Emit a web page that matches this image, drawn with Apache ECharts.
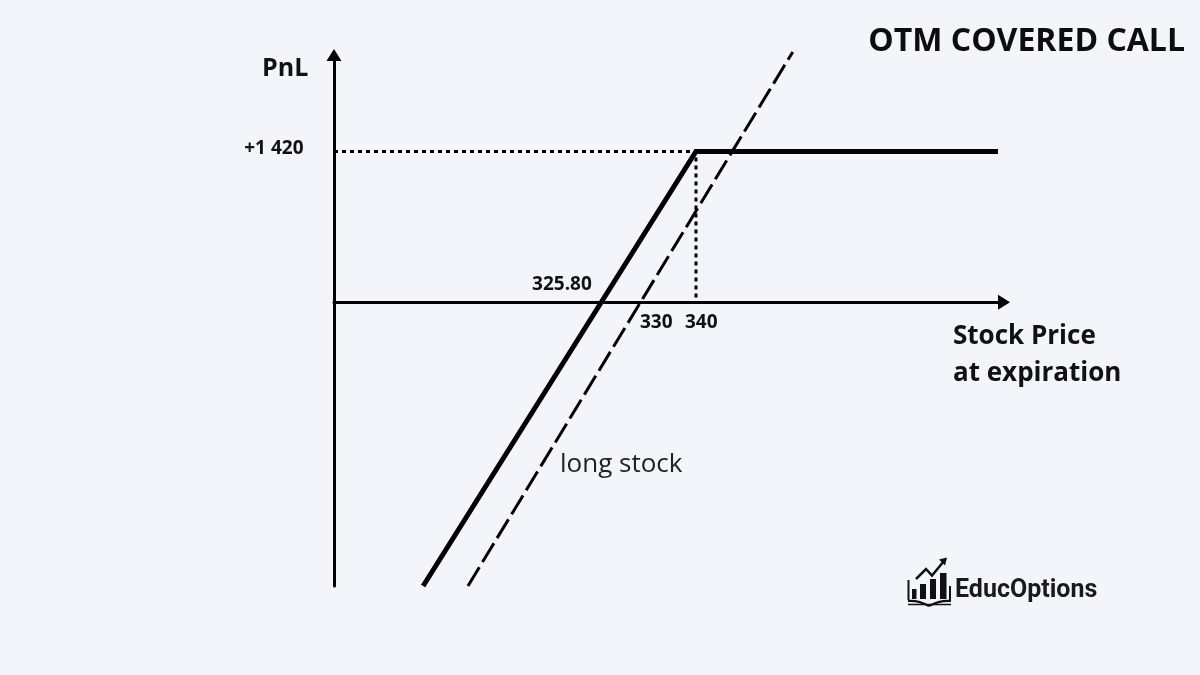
<!DOCTYPE html>
<html>
<head>
<meta charset="utf-8">
<script src="https://cdn.jsdelivr.net/npm/echarts@6/dist/echarts.min.js"></script>
<style>
  html, body { margin: 0; padding: 0; background: #f4f5fa; }
  #chart { width: 1200px; height: 675px; }
</style>
</head>
<body>
<div id="chart"></div>
<script>
// ---- data (schematic payoff diagram) ----
const coveredCall = [[290.4, -2670], [340, 1420], [394.9, 1420]];
const longStock = [[298.55, -2670], [357.6, 2356]];
const maxProfitGuide = [[274.2, 1420], [340, 1420], [340, 0]];
const tickPoints = [[274.2, 1420], [322.8, 0], [330, 0], [340, 0]];
const tickLabels = ['+1 420', '325.80', '330', '340'];
const titleText = 'OTM COVERED CALL';
const yAxisName = 'PnL';
const xAxisName = ['Stock Price', 'at expiration'];
const seriesNote = 'long stock';
const brandName = 'EducOptions';

const labelStyles = [
  { align: 'right', offset: [-30.5, -3] },
  { align: 'right', offset: [-9.5, -18] },
  { align: 'left', offset: [-1, 20] },
  { align: 'left', offset: [-11, 20] }
];

const chart = echarts.init(document.getElementById('chart'));
const ink = '#000000';
const font = '"Open Sans", sans-serif';

chart.setOption({
  backgroundColor: '#f4f5fa',
  animation: false,
  grid: { left: 334, right: 196, top: 55, bottom: 89 },
  xAxis: {
    type: 'value', min: 274.2, max: 396.0,
    axisLine: { show: true, onZero: true, symbol: ['none', 'triangle'], symbolSize: [15, 12],
      lineStyle: { color: ink, width: 3 } },
    axisTick: { show: false }, axisLabel: { show: false }, splitLine: { show: false }
  },
  yAxis: {
    type: 'value', min: -2670, max: 2327,
    axisLine: { show: true, onZero: false, symbol: ['none', 'triangle'], symbolSize: [15, 12],
      lineStyle: { color: ink, width: 3 } },
    axisTick: { show: false }, axisLabel: { show: false }, splitLine: { show: false }
  },
  series: [
    {
      name: 'guide', type: 'line', data: maxProfitGuide, symbol: 'none', silent: true,
      lineStyle: { color: ink, width: 3, type: [4, 4] }, z: 1
    },
    {
      name: 'long stock', type: 'line', data: longStock, symbol: 'none', clip: false,
      lineStyle: { color: ink, width: 3, type: [22, 6] }, z: 2
    },
    {
      name: 'covered call', type: 'line', data: coveredCall, symbol: 'none', clip: false,
      lineStyle: { color: ink, width: 5, join: 'miter' }, z: 3
    },
    {
      name: 'ticks', type: 'scatter', symbolSize: 1, itemStyle: { color: 'rgba(0,0,0,0)', opacity: 1 },
      data: tickPoints.map((p, i) => ({
        value: p,
        label: {
          show: true, position: 'inside', formatter: tickLabels[i],
          align: labelStyles[i].align, verticalAlign: 'middle', offset: labelStyles[i].offset,
          color: '#111', textBorderWidth: 0, textBorderColor: 'transparent', opacity: 1,
          fontFamily: font, fontWeight: 'bold', fontSize: 19
        }
      })), z: 4
    }
  ],
  graphic: [
    { type: 'text', style: { x: 1185, y: 41.5, text: titleText, textAlign: 'right', textVerticalAlign: 'middle',
      font: 'bold 32px "Open Sans", sans-serif', fill: '#0d0d0d' } },
    { type: 'text', style: { x: 262, y: 69, text: yAxisName, textAlign: 'left', textVerticalAlign: 'middle',
      font: 'bold 25px "Open Sans", sans-serif', fill: '#111' } },
    { type: 'text', style: { x: 953, y: 337, text: xAxisName[0], textAlign: 'left', textVerticalAlign: 'middle',
      font: 'bold 26px "Open Sans", sans-serif', fill: '#111' } },
    { type: 'text', style: { x: 953, y: 374, text: xAxisName[1], textAlign: 'left', textVerticalAlign: 'middle',
      font: 'bold 26px "Open Sans", sans-serif', fill: '#111' } },
    { type: 'text', style: { x: 560, y: 465, text: seriesNote, textAlign: 'left', textVerticalAlign: 'middle',
      font: '26px "Open Sans", sans-serif', fill: '#222' } },
    { type: 'text', style: { x: 955, y: 591, text: brandName, textAlign: 'left', textVerticalAlign: 'middle',
      font: 'bold 25px Roboto, sans-serif', fill: '#1a1a1a' } },
    // logo icon
    { type: 'group', children: [
      { type: 'rect', shape: { x: 912, y: 589, width: 4.5, height: 10 }, style: { fill: '#111' } },
      { type: 'rect', shape: { x: 920, y: 584, width: 6, height: 15 }, style: { fill: '#111' } },
      { type: 'rect', shape: { x: 930, y: 579, width: 6, height: 20 }, style: { fill: '#111' } },
      { type: 'rect', shape: { x: 940, y: 573, width: 6.5, height: 26 }, style: { fill: '#111' } },
      { type: 'line', shape: { x1: 908.5, y1: 580, x2: 908.5, y2: 600 }, style: { stroke: '#111', lineWidth: 2 } },
      { type: 'line', shape: { x1: 950, y1: 586, x2: 950, y2: 600 }, style: { stroke: '#111', lineWidth: 2 } },
      { type: 'polyline', shape: { points: [[916, 579], [926, 569], [932, 575.5], [944, 561]] },
        style: { stroke: '#111', lineWidth: 2.5, fill: null } },
      { type: 'polygon', shape: { points: [[947, 557.5], [939, 559.5], [945, 565.5]] }, style: { fill: '#111' } },
      { type: 'bezierCurve', shape: { x1: 908, y1: 601, cpx1: 918, cpy1: 600, x2: 929, y2: 606 },
        style: { stroke: '#111', lineWidth: 2.2, fill: null } },
      { type: 'bezierCurve', shape: { x1: 929, y1: 606, cpx1: 940, cpy1: 600, x2: 951, y2: 601 },
        style: { stroke: '#111', lineWidth: 2.2, fill: null } },
      { type: 'line', shape: { x1: 908, y1: 604.5, x2: 951, y2: 604.5 }, style: { stroke: '#111', lineWidth: 1.6 } }
    ] }
  ]
});
</script>
</body>
</html>
